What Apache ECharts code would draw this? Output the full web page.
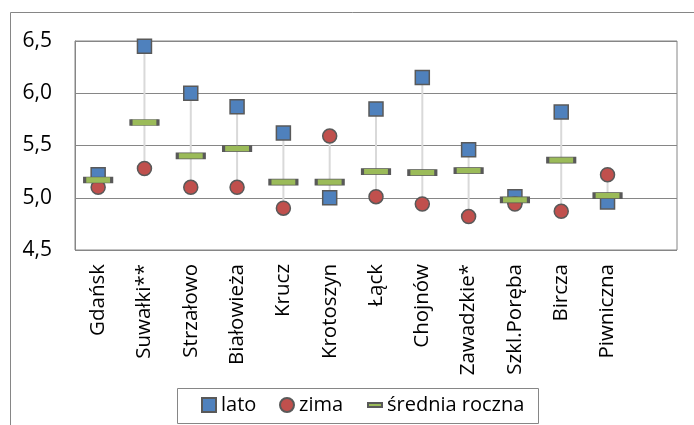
<!DOCTYPE html>
<html>
<head>
<meta charset="utf-8">
<script src="https://cdn.jsdelivr.net/npm/echarts@6/dist/echarts.min.js"></script>
<style>
html,body{margin:0;padding:0;background:#fff;}
#chart{width:694px;height:425px;}
</style>
</head>
<body>
<div id="chart"></div>
<script>
var categories = ['Gdańsk','Suwałki**','Strzałowo','Białowieża','Krucz','Krotoszyn','Łąck','Chojnów','Zawadzkie*','Szkl.Poręba','Bircza','Piwniczna'];
var lato = [5.22, 6.45, 6.00, 5.87, 5.62, 5.00, 5.85, 6.15, 5.46, 5.01, 5.82, 4.96];
var zima = [5.10, 5.28, 5.10, 5.10, 4.90, 5.59, 5.01, 4.94, 4.82, 4.94, 4.87, 5.22];
var srednia = [5.17, 5.72, 5.40, 5.47, 5.15, 5.15, 5.25, 5.24, 5.26, 4.98, 5.36, 5.02];
var seriesNames = ['lato', 'zima', 'średnia roczna'];

var FONT = '"Open Sans"';
var axisCats = categories.concat(['']);
var rangeData = categories.map(function (c, i) { return [i, lato[i], zima[i]]; });

var chart = echarts.init(document.getElementById('chart'), null, {renderer: 'canvas'});
var border = '#595959';
var legendText = {fontFamily: FONT, fontSize: 20, color: '#000', lineHeight: 24};
chart.setOption({
  animation: false,
  backgroundColor: '#fff',
  textStyle: {fontFamily: FONT},
  grid: {left: 75, right: 17, top: 41, bottom: 175, show: true, borderColor: '#868686', borderWidth: 1, containLabel: false},
  xAxis: {
    type: 'category', data: axisCats, boundaryGap: true,
    axisLine: {show: false}, axisTick: {show: false},
    axisLabel: {rotate: 90, margin: 14, fontFamily: FONT, fontSize: 20.5, color: '#000', interval: 0}
  },
  yAxis: {
    type: 'value', min: 4.5, max: 6.5, interval: 0.5,
    axisLine: {show: true, lineStyle: {color: '#868686', width: 1}}, axisTick: {show: false},
    splitLine: {show: true, lineStyle: {color: '#868686', width: 1}},
    axisLabel: {margin: 23, fontFamily: FONT, fontSize: 21, color: '#000',
      formatter: function (v) { return v.toFixed(1).replace('.', ','); }}
  },
  legend: [
    {data: [{name: seriesNames[0], icon: 'rect'}], left: 201, top: 393, padding: 0, itemWidth: 14, itemHeight: 14, textStyle: legendText},
    {data: [{name: seriesNames[1], icon: 'circle'}], left: 279, top: 393, padding: 0, itemWidth: 14, itemHeight: 14, textStyle: legendText},
    {data: [{name: seriesNames[2], icon: 'rect'}], left: 367, top: 393, padding: 0, itemWidth: 14, itemHeight: 4, textStyle: legendText}
  ],
  graphic: [
    {type: 'rect', silent: true, shape: {x: 10.5, y: 12.5, width: 900, height: 600}, style: {fill: 'none', stroke: '#868686', lineWidth: 1}, z: -10},
    {type: 'rect', silent: true, shape: {x: 177.5, y: 388.5, width: 361, height: 35}, style: {fill: 'none', stroke: '#868686', lineWidth: 1}, z: -10}
  ],
  series: [
    {
      type: 'custom', name: 'hilo', z: 1, silent: true,
      data: rangeData,
      renderItem: function (params, api) {
        var p1 = api.coord([api.value(0), api.value(1)]);
        var p2 = api.coord([api.value(0), api.value(2)]);
        return {type: 'line', shape: {x1: p1[0], y1: p1[1], x2: p2[0], y2: p2[1]}, style: {stroke: '#d9d9d9', lineWidth: 2}};
      }
    },
    {type: 'scatter', name: seriesNames[0], z: 2, data: lato, symbol: 'rect', symbolSize: 14,
      itemStyle: {color: '#4f81bd', borderColor: border, borderWidth: 1.5, opacity: 1}},
    {type: 'scatter', name: seriesNames[1], z: 3, data: zima, symbol: 'circle', symbolSize: 14,
      itemStyle: {color: '#c0504d', borderColor: border, borderWidth: 1.5, opacity: 1}},
    {type: 'scatter', name: seriesNames[2], z: 4, data: srednia, symbol: 'rect', symbolSize: [27, 6],
      itemStyle: {color: '#9bbb59', borderColor: border, borderWidth: 1.5, opacity: 1}}
  ]
});
</script>
</body>
</html>
